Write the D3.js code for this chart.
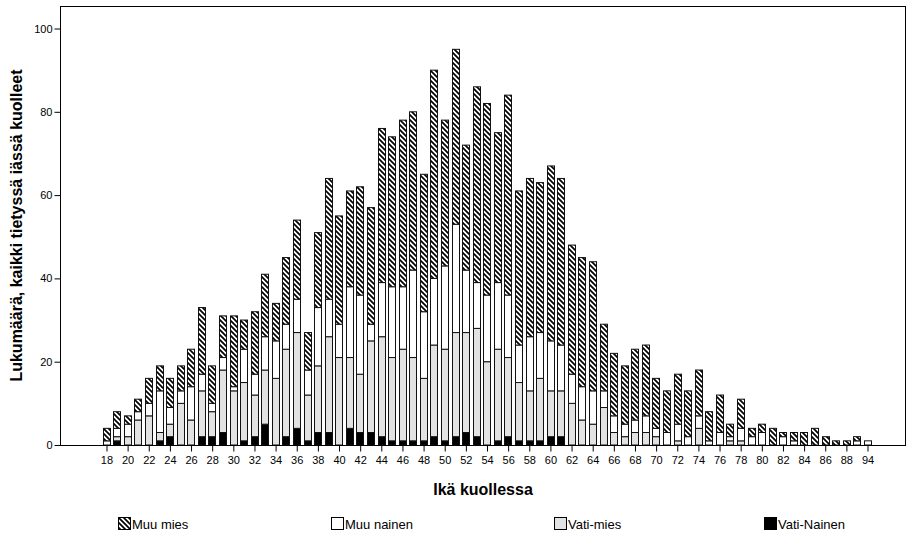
<!DOCTYPE html>
<html>
<head>
<meta charset="utf-8">
<script src="https://cdn.jsdelivr.net/npm/d3@7"></script>
<style>
  body { margin: 0; background: #fff; }
  svg { display: block; font-family: "Liberation Sans", Arial, Helvetica, sans-serif; }
</style>
</head>
<body>
<svg id="chart" width="907" height="536"></svg>
<script>
// Age at death (one bar per age; the last two ages are 90 and 94)
const ages = ["18","19","20","21","22","23","24","25","26","27","28","29","30","31","32","33","34","35",
  "36","37","38","39","40","41","42","43","44","45","46","47","48","49","50","51","52","53",
  "54","55","56","57","58","59","60","61","62","63","64","65","66","67","68","69","70","71",
  "72","73","74","75","76","77","78","79","80","81","82","83","84","85","86","87","88","90","94"];

// Counts per group, stacked bottom to top in this order
const vatiNainen = [0,1,0,0,0,1,2,0,0,2,2,3,0,1,2,5,0,2,
  4,1,3,3,0,4,3,3,2,1,1,1,1,2,1,2,3,2,
  0,1,2,1,1,1,2,2,0,0,0,0,0,0,0,0,0,0,
  0,0,0,0,0,0,0,0,0,0,0,0,0,0,0,0,0,0,0];
const vatiMies = [0,1,2,6,7,2,3,10,6,11,6,15,13,14,10,13,16,21,
  23,11,16,23,21,17,14,22,24,20,22,20,15,22,22,25,24,26,
  20,22,19,14,12,15,11,11,10,6,5,9,3,2,3,3,2,0,
  1,0,4,0,0,1,1,0,0,0,0,0,0,0,0,0,0,0,0];
const muuNainen = [1,2,3,2,3,10,4,3,8,4,2,3,1,8,5,8,9,6,
  8,6,14,9,8,17,19,4,13,17,15,21,16,16,20,26,15,11,
  16,16,15,9,13,11,12,11,7,8,8,4,4,3,3,4,2,3,
  4,2,3,1,3,1,3,2,3,0,2,1,0,0,0,0,0,1,1];
const muuMies = [3,4,2,3,6,6,7,6,9,16,9,10,17,7,15,15,9,16,
  19,9,18,29,26,23,26,28,37,36,40,38,33,50,35,42,30,47,
  46,36,48,37,38,36,42,40,31,31,31,16,15,14,17,17,12,10,
  12,11,11,7,9,3,7,2,2,4,1,2,3,4,2,1,1,1,0];

const seriesKeys = ["Vati-Nainen", "Vati-mies", "Muu nainen", "Muu mies"];
const yTickValues = [0, 20, 40, 60, 80, 100];
const xTickLabels = ["18","20","22","24","26","28","30","32","34","36","38","40","42","44","46","48",
  "50","52","54","56","58","60","62","64","66","68","70","72","74","76","78","80","82","84","86","88","94"];
const legendOrder = ["Muu mies", "Muu nainen", "Vati-mies", "Vati-Nainen"];

const rows = ages.map((age, i) => ({
  age,
  "Vati-Nainen": vatiNainen[i],
  "Vati-mies": vatiMies[i],
  "Muu nainen": muuNainen[i],
  "Muu mies": muuMies[i]
}));

const svg = d3.select("#chart");

// Plot frame
const frame = { left: 60, right: 905, top: 6, bottom: 445 };

// Diagonal hatch for "Muu mies"
const defs = svg.append("defs");
const pat = defs.append("pattern")
  .attr("id", "hatch")
  .attr("patternUnits", "userSpaceOnUse")
  .attr("width", 5).attr("height", 5);
pat.append("rect").attr("width", 5).attr("height", 5).attr("fill", "#fff");
pat.append("path")
  .attr("d", "M-1,-1 L6,6 M-1,4 L1,6 M4,-1 L6,1")
  .attr("stroke", "#000").attr("stroke-width", 1.7).attr("fill", "none");

const fills = {
  "Vati-Nainen": "#000",
  "Vati-mies": "#e2e2e2",
  "Muu nainen": "#fff",
  "Muu mies": "url(#hatch)"
};

const x = d3.scaleBand()
  .domain(ages)
  .range([101.7, 873.3])
  .paddingInner(0.2)
  .paddingOuter(0.1);

const y = d3.scaleLinear()
  .domain([0, 100])
  .range([frame.bottom, 28.5]);

const stacked = d3.stack().keys(seriesKeys)(rows);

// Stacked bars
const layers = svg.append("g").attr("class", "bars")
  .selectAll("g")
  .data(stacked)
  .join("g")
  .attr("fill", d => fills[d.key]);

layers.selectAll("rect")
  .data(d => d.filter(s => s[1] - s[0] > 0))
  .join("rect")
  .attr("x", d => Math.round(x(d.data.age)) + 0.5)
  .attr("width", Math.round(x.bandwidth()) - 1)
  .attr("y", d => y(d[1]))
  .attr("height", d => y(d[0]) - y(d[1]))
  .attr("stroke", "#111")
  .attr("stroke-width", 1);

// Frame lines
svg.append("rect")
  .attr("x", frame.left + 0.5).attr("y", frame.top + 0.5)
  .attr("width", frame.right - frame.left)
  .attr("height", frame.bottom - frame.top)
  .attr("fill", "none").attr("stroke", "#000").attr("stroke-width", 1);

// Y axis
const yAxis = svg.append("g")
  .attr("transform", `translate(${frame.left + 0.5},0)`)
  .call(d3.axisLeft(y).tickValues(yTickValues).tickSize(6).tickPadding(2));
yAxis.select(".domain").remove();
yAxis.selectAll("text").attr("font-size", 11).attr("font-family", null).attr("fill", "#000");
yAxis.selectAll("line").attr("stroke", "#000");

// X axis
const xAxis = svg.append("g")
  .attr("transform", `translate(0,${frame.bottom + 0.5})`)
  .call(d3.axisBottom(x).tickValues(xTickLabels).tickSize(6).tickPadding(5));
xAxis.select(".domain").remove();
xAxis.selectAll("text").attr("font-size", 11).attr("font-family", null).attr("fill", "#000");
xAxis.selectAll("line").attr("stroke", "#000");

// Axis titles
svg.append("text")
  .attr("transform", `translate(22,${(frame.top + frame.bottom) / 2}) rotate(-90)`)
  .attr("text-anchor", "middle")
  .attr("font-size", 16).attr("font-weight", "bold")
  .text("Lukumäärä, kaikki tietyssä iässä kuolleet");

svg.append("text")
  .attr("x", 483).attr("y", 495)
  .attr("text-anchor", "middle")
  .attr("font-size", 16).attr("font-weight", "bold")
  .text("Ikä kuollessa");

// Legend
const legendX = d3.scaleOrdinal().domain(legendOrder).range([118, 331, 554, 764]);
const legend = svg.append("g").attr("class", "legend")
  .selectAll("g")
  .data(legendOrder)
  .join("g")
  .attr("transform", d => `translate(${legendX(d)},517)`);
legend.append("rect")
  .attr("x", 0.5).attr("y", 0.5).attr("width", 12).attr("height", 12)
  .attr("fill", d => fills[d]).attr("stroke", "#000").attr("stroke-width", 1);
legend.append("text")
  .attr("x", 14).attr("y", 11.5)
  .attr("font-size", 13)
  .text(d => d);
</script>
</body>
</html>
